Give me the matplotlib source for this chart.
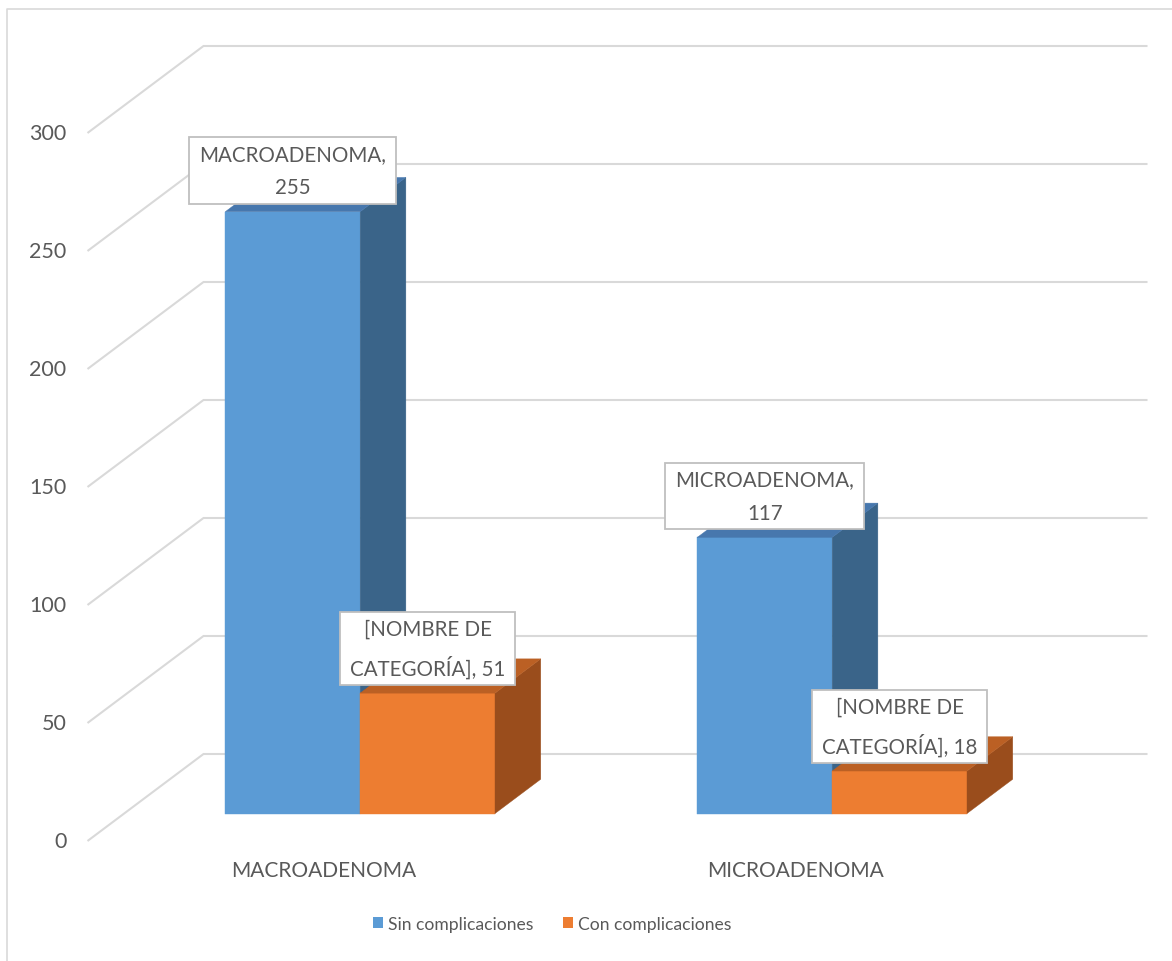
import matplotlib
matplotlib.use("Agg")
import matplotlib.pyplot as plt
from matplotlib.patches import Rectangle, Patch
from matplotlib.lines import Line2D
from matplotlib.transforms import IdentityTransform

# ---------------- data ----------------
categories = ["MACROADENOMA", "MICROADENOMA"]
series_names = ["Sin complicaciones", "Con complicaciones"]
sin_complicaciones = [255, 117]
con_complicaciones = [51, 18]
y_ticks = [0, 50, 100, 150, 200, 250, 300]

# ---------------- style / layout ----------------
W, H = 1172, 962
FONT = "Lato"
TXT = "#595959"
GRID = "#d9d9d9"
front_colors = ["#5b9bd5", "#ed7d31"]
top_colors = ["#4777ad", "#bb6024"]
side_colors = ["#3a6489", "#9a4d1c"]

ORIGIN_X, ORIGIN_Y = 323.5, 842.0     # pixel of (category 0, value 0) on floor front
PX_CAT = 472.0                        # pixels per category
PX_UNIT = 2.36                        # pixels per value unit
DEPTH_PX = (116.0, 87.0)              # oblique depth vector (pixels)
D_FRONT, D_BACK = 0.316, 0.71         # depth of bar front/back planes
BAR_W = 1 / 3.5                       # gap width 150%
PT = 72.0 / 100.0                     # points per pixel

fig = plt.figure(figsize=(W / 100, H / 100), dpi=100)
ax = fig.add_axes([0, 0, 1, 1])
ax.set_xlim(-ORIGIN_X / PX_CAT, (W - ORIGIN_X) / PX_CAT)
ax.set_ylim(-(H - ORIGIN_Y) / PX_UNIT, ORIGIN_Y / PX_UNIT)
ax.axis("off")


def P(x, v, d):
    return (x + d * DEPTH_PX[0] / PX_CAT, v + d * DEPTH_PX[1] / PX_UNIT)


# wall gridlines + left diagonals + tick labels
for v in y_ticks:
    p0, p1, p2 = P(-0.5, v, 0), P(-0.5, v, 1), P(1.5, v, 1)
    ax.plot([p0[0], p1[0], p2[0]], [p0[1], p1[1], p2[1]], color=GRID,
            lw=1.5, solid_capstyle="butt", zorder=1)
    ax.annotate(str(v), xy=p0, xytext=(-21 * PT, 0), textcoords="offset points",
                ha="right", va="center", fontsize=15.5, color=TXT, family=FONT)

# bars
series = [sin_complicaciones, con_complicaciones]
label_artists = []
z = 2
for i, cat in enumerate(categories):
    for j, vals in enumerate(series):
        v = vals[i]
        x0 = i - BAR_W + j * BAR_W
        x1 = x0 + BAR_W
        fx, fy = P(x0, 0, D_FRONT)
        ax.bar(fx, v, width=BAR_W, bottom=fy, align="edge", color=front_colors[j],
               edgecolor=front_colors[j], lw=0.3, zorder=z)
        side = [P(x1, 0, D_FRONT), P(x1, v, D_FRONT), P(x1, v, D_BACK), P(x1, 0, D_BACK)]
        ax.fill([p[0] for p in side], [p[1] for p in side], color=side_colors[j],
                lw=0.3, ec=side_colors[j], zorder=z)
        top = [P(x0, v, D_FRONT), P(x1, v, D_FRONT), P(x1, v, D_BACK), P(x0, v, D_BACK)]
        ax.fill([p[0] for p in top], [p[1] for p in top], color=top_colors[j],
                lw=0.3, ec=top_colors[j], zorder=z)
        z += 1
        if j == 0:
            txt = f"{cat},\n{v}"
        else:
            txt = f"[NOMBRE DE\nCATEGORÍA], {v}"
        t = ax.annotate(txt, xy=P((x0 + x1) / 2, v, D_FRONT), xytext=(0, 14.5 * PT),
                        textcoords="offset points", ha="center", va="bottom",
                        fontsize=14.8, color=TXT, family=FONT, linespacing=1.85,
                        zorder=21)
        label_artists.append(t)

# category labels
for i, cat in enumerate(categories):
    ax.annotate(cat, xy=P(i, 0, 0), xytext=(0, -29 * PT), textcoords="offset points",
                ha="center", va="center", fontsize=15, color=TXT, family=FONT)

# legend
handles = [Patch(facecolor=c, edgecolor="none") for c in front_colors]
fig.legend(handles, series_names, loc="center", bbox_to_anchor=(552 / W, 1 - 925 / H),
           ncol=2, frameon=False, labelcolor=TXT,
           prop={"family": FONT, "size": 12.6},
           handlelength=0.57, handleheight=0.57, handletextpad=0.3, columnspacing=1.7)

# outer frame (top and left edges visible)
fig.add_artist(Line2D([7 / W, 7 / W, 1], [0, 1 - 10 / H, 1 - 10 / H],
                      transform=fig.transFigure, color=GRID, lw=1.2))

# boxes around data labels
fig.canvas.draw()
renderer = fig.canvas.get_renderer()
PADX, PADY = 10, 6.5
for t in label_artists:
    bb = t.get_window_extent(renderer)
    r = Rectangle((bb.x0 - PADX, bb.y0 - PADY), bb.width + 2 * PADX, bb.height + 2 * PADY,
                  transform=IdentityTransform(), facecolor="white", edgecolor="#bfbfbf",
                  lw=1.3, zorder=20)
    ax.add_artist(r)

fig.savefig("out.png", dpi=100)
